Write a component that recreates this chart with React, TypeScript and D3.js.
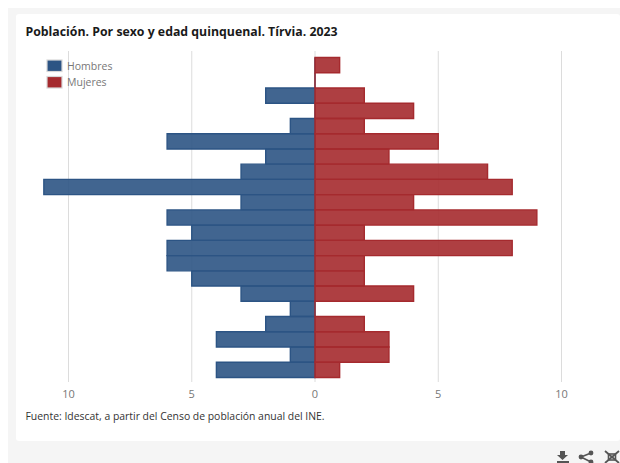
import React from "react";
import * as d3 from "d3";

const ageGroups = ["100+","95-99","90-94","85-89","80-84","75-79","70-74","65-69","60-64","55-59","50-54","45-49","40-44","35-39","30-34","25-29","20-24","15-19","10-14","5-9","0-4"];
const hombres = [0,0,2,0,1,6,2,3,11,3,6,5,6,6,5,3,1,2,4,1,4];
const mujeres = [1,0,2,4,2,5,3,7,8,4,9,2,8,2,2,4,0,2,3,3,1];
const xTicks = [-10,-5,0,5,10];
const title = "Población. Por sexo y edad quinquenal. Tírvia. 2023";
const source = "Fuente: Idescat, a partir del Censo de población anual del INE.";
const legendItems = [{ name: "Hombres", color: "#2c5484" }, { name: "Mujeres", color: "#a52a2e" }];
const font = "'Open Sans', sans-serif";

export default function App() {
  const x = d3.scaleLinear().domain([-10, 10]).range([68.5, 561.5]);
  const y = d3.scaleBand().domain(ageGroups).range([57.5, 377.5]).paddingInner(0);
  const bh = y.bandwidth();
  const series = [
    { vals: hombres, sign: -1, fill: "#2c5484", stroke: "#2c5484" },
    { vals: mujeres, sign: 1, fill: "#a52a2e", stroke: "#a52a2e" },
  ];
  return (
    <svg width={620} height={463} style={{ position: "absolute", left: 0, top: 0, background: "#fff" }}>
      <rect x={8} y={8} width={612} height={455} fill="#f5f5f5" />
      <rect x={16} y={14} width={604} height={427} rx={3} fill="#fff" />
      <text x={25.5} y={36} fontFamily={font} fontSize={12.3} fontWeight={700} fill="#1a1a1a">{title}</text>
      {xTicks.map(t => (
        <g key={t}>
          <line x1={x(t)} x2={x(t)} y1={51} y2={382} stroke="#dcdcdc" strokeWidth={1} />
          <text x={x(t)} y={398} textAnchor="middle" fontFamily={font} fontSize={11} fill="#777">{Math.abs(t)}</text>
        </g>
      ))}
      {series.map((s, i) => (
        <g key={i}>
          {s.vals.map((v, j) => {
            const x0 = x(0), x1 = x(s.sign * v);
            const top = y(ageGroups[j]) as number;
            return (
              <path key={j} d={`M${x0} ${top}H${x1}V${top + bh}H${x0}Z`}
                fill={s.fill} fillOpacity={0.9} stroke={s.stroke} strokeWidth={1.4} />
            );
          })}
        </g>
      ))}
      {legendItems.map((l, i) => (
        <g key={l.name} transform={`translate(47,${60 + i * 16.5})`}>
          <rect x={0} y={0} width={15} height={11.5} fill={l.color} stroke="#d8d8d8" strokeWidth={1.2} />
          <text x={20} y={9.5} fontFamily={font} fontSize={10.5} fill="#777">{l.name}</text>
        </g>
      ))}
      <text x={25.5} y={420} fontFamily={font} fontSize={10.42} fill="#333">{source}</text>
      <g fill="#555" stroke="#555">
        <path d="M560 451h5v4h3l-5.500 5-5.500-5h3z" stroke="none" />
        <rect x={557} y={461} width={12} height={2} stroke="none" />
        <path d="M581 457l10-4M581 457l10 5" fill="none" strokeWidth={1.6} />
        <circle cx={581} cy={457} r={2.4} stroke="none" />
        <circle cx={591} cy={453} r={2.4} stroke="none" />
        <circle cx={591} cy={462} r={2.4} stroke="none" />
        <path d="M605 451l14 12M619 451l-14 12" fill="none" strokeWidth={1.8} />
        <rect x={608.500} y={454} width={7} height={6} fill="none" strokeWidth={1.6} />
      </g>
    </svg>
  );
}
